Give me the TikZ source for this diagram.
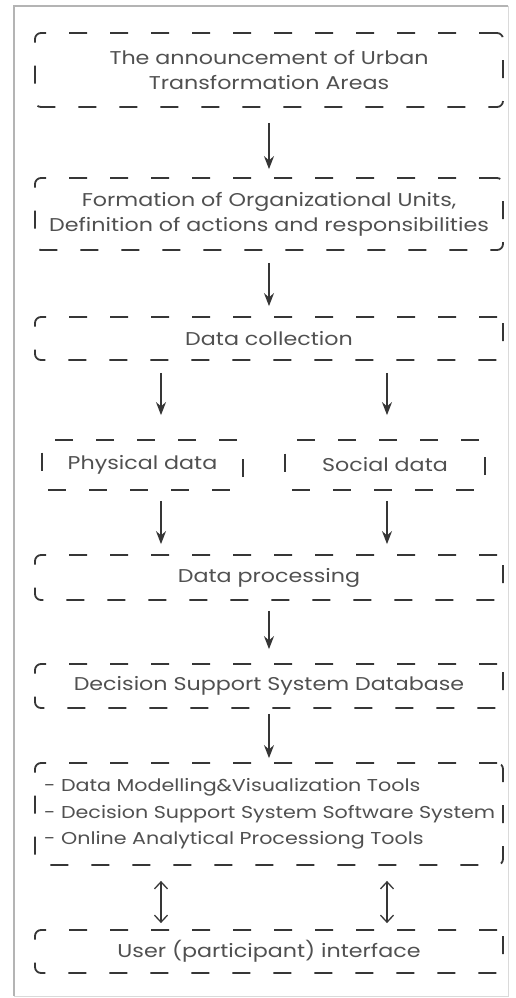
\documentclass[tikz,border=0pt]{standalone}
\usepackage{fontspec}
\setmainfont{Poppins}[FakeStretch=1.2]
\usetikzlibrary{arrows.meta}
\definecolor{ink}{HTML}{363636}
\definecolor{txt}{HTML}{505050}
\definecolor{frame}{HTML}{B4B4B4}
\tikzset{
  stage/.style={draw=ink, line width=1.8pt, dash pattern=on 18pt off 23pt,
    rounded corners=6pt, text=txt, align=center, inner sep=0pt,
    font=\fontsize{18.5}{25}\selectfont},
  flow/.style={draw=ink, line width=1.5pt, -{Stealth[length=13pt,width=10pt]}},
  twoway/.style={draw=ink, line width=1.3pt, {Straight Barb[length=7pt,width=13pt]}-{Straight Barb[length=7pt,width=13pt]}},
  listtext/.style={text=txt, align=left, inner sep=0pt, anchor=west,
    font=\fontsize{17.2}{26.5}\selectfont},
}
\begin{document}
\begin{tikzpicture}[x=1pt,y=-1pt]
\useasboundingbox (0,0) rectangle (516,998);
% outer panel
\draw[frame, line width=2pt] (14,996) -- (14,6) -- (508,6);
\draw[frame!50, line width=1pt] (508,6) -- (508,996) -- (14,996);

% column positions for the split arrows
\coordinate (colL) at (161,0);
\coordinate (colR) at (387,0);

\node[stage, minimum width=468pt, minimum height=74pt] (announce) at (269,70)
  {The announcement of Urban\\Transformation Areas};
\node[stage, minimum width=468pt, minimum height=72pt] (units) at (269,214)
  {Formation of Organizational Units,\\Definition of actions and responsibilities};
\node[stage, minimum width=468pt, minimum height=43pt] (collect) at (269,338.5)
  {Data collection};
\node[stage, minimum width=201pt, minimum height=50pt] (phys) at (142.5,465)
  {Physical data};
\node[stage, minimum width=200pt, minimum height=50pt] (social) at (385,465)
  {Social data};
\node[stage, minimum width=468pt, minimum height=45pt] (process) at (269,577.5)
  {Data processing};
\node[stage, minimum width=468pt, minimum height=44pt] (dssdb) at (269,686)
  {Decision Support System Database};
\node[stage, minimum width=468pt, minimum height=102pt] (tools) at (269,814) {};
\node[listtext] (toollist) at (44,814)
  {- Data Modelling\&Visualization Tools\\
   - Decision Support System Software System\\
   - Online Analytical Processiong Tools};
\node[stage, minimum width=468pt, minimum height=43pt] (ui) at (269,951.5)
  {User (participant) interface};

% connectors
\draw[flow, shorten <=15pt, shorten >=8pt] (announce.south) -- (units.north);
\draw[flow, shorten <=12pt, shorten >=10pt] (units.south) -- (collect.north);
\draw[flow, shorten <=12pt, shorten >=24pt] (collect.south -| colL) -- (phys.north -| colL);
\draw[flow, shorten <=12pt, shorten >=24pt] (collect.south -| colR) -- (social.north -| colR);
\draw[flow, shorten <=10pt, shorten >=10pt] (phys.south -| colL) -- (process.north -| colL);
\draw[flow, shorten <=10pt, shorten >=10pt] (social.south -| colR) -- (process.north -| colR);
\draw[flow, shorten <=10pt, shorten >=14pt] (process.south) -- (dssdb.north);
\draw[flow, shorten <=5pt, shorten >=4pt] (dssdb.south) -- (tools.north);
\draw[twoway, shorten <=15pt, shorten >=6pt] (tools.south -| colL) -- (ui.north -| colL);
\draw[twoway, shorten <=15pt, shorten >=6pt] (tools.south -| colR) -- (ui.north -| colR);
\end{tikzpicture}
\end{document}
